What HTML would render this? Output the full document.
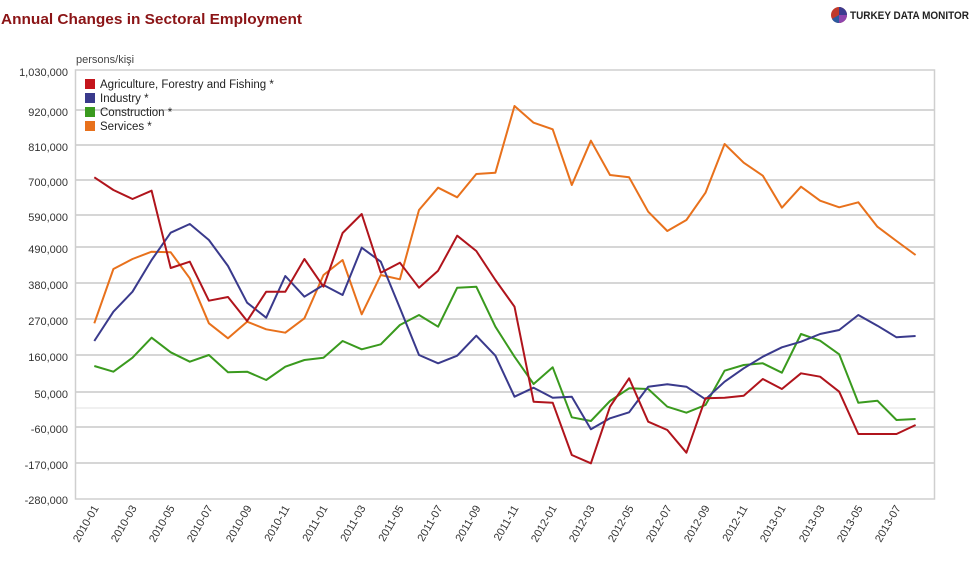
<!DOCTYPE html>
<html><head><meta charset="utf-8"><style>
body{margin:0;background:#fff;}
svg{display:block;font-family:"Liberation Sans",Arial,sans-serif;}
</style></head><body>
<svg width="979" height="570" viewBox="0 0 979 570" xmlns="http://www.w3.org/2000/svg">
<text x="1" y="24" font-size="15" font-weight="bold" fill="#8b1416" textLength="301" lengthAdjust="spacingAndGlyphs">Annual Changes in Sectoral Employment</text>
<g transform="translate(839,15)">
<circle r="8" fill="#c0392b"/>
<path d="M0,0 L0,-8 A8,8 0 0 1 8,0 Z" fill="#3b3b8f"/>
<path d="M0,0 L8,0 A8,8 0 0 1 0,8 Z" fill="#8e44ad"/>
<path d="M0,0 L0,8 A8,8 0 0 1 -7,4 Z" fill="#2c5a9e"/>
</g>
<text x="850" y="19" font-size="11" font-weight="bold" fill="#222" textLength="119" lengthAdjust="spacingAndGlyphs">TURKEY DATA MONITOR</text>
<text x="76" y="63" font-size="11" fill="#444">persons/kişi</text>
<g stroke="#d6d6d6" stroke-width="2">
<line x1="76" x2="934" y1="110" y2="110"/><line x1="76" x2="934" y1="145" y2="145"/>
<line x1="76" x2="934" y1="180" y2="180"/><line x1="76" x2="934" y1="215" y2="215"/>
<line x1="76" x2="934" y1="247" y2="247"/><line x1="76" x2="934" y1="283" y2="283"/>
<line x1="76" x2="934" y1="319" y2="319"/><line x1="76" x2="934" y1="355" y2="355"/>
<line x1="76" x2="934" y1="392" y2="392"/><line x1="76" x2="934" y1="427" y2="427"/>
<line x1="76" x2="934" y1="463" y2="463"/>
</g>
<line x1="76" x2="934" y1="408" y2="408" stroke="#ececec" stroke-width="1.5"/>
<rect x="75.5" y="70" width="859" height="429" fill="none" stroke="#cfcfcf" stroke-width="1.5"/>
<g font-size="11" fill="#333" text-anchor="end">
<text x="68" y="76">1,030,000</text><text x="68" y="116">920,000</text>
<text x="68" y="151">810,000</text><text x="68" y="186">700,000</text>
<text x="68" y="221">590,000</text><text x="68" y="253">490,000</text>
<text x="68" y="289">380,000</text><text x="68" y="325">270,000</text>
<text x="68" y="361">160,000</text><text x="68" y="398">50,000</text>
<text x="68" y="433">-60,000</text><text x="68" y="469">-170,000</text>
<text x="68" y="504">-280,000</text>
</g>
<g font-size="11" fill="#333" text-anchor="end">
<text transform="translate(99,508) rotate(-60)">2010-01</text>
<text transform="translate(137,508) rotate(-60)">2010-03</text>
<text transform="translate(175,508) rotate(-60)">2010-05</text>
<text transform="translate(213,508) rotate(-60)">2010-07</text>
<text transform="translate(252,508) rotate(-60)">2010-09</text>
<text transform="translate(290,508) rotate(-60)">2010-11</text>
<text transform="translate(328,508) rotate(-60)">2011-01</text>
<text transform="translate(366,508) rotate(-60)">2011-03</text>
<text transform="translate(404,508) rotate(-60)">2011-05</text>
<text transform="translate(443,508) rotate(-60)">2011-07</text>
<text transform="translate(481,508) rotate(-60)">2011-09</text>
<text transform="translate(519,508) rotate(-60)">2011-11</text>
<text transform="translate(557,508) rotate(-60)">2012-01</text>
<text transform="translate(595,508) rotate(-60)">2012-03</text>
<text transform="translate(634,508) rotate(-60)">2012-05</text>
<text transform="translate(672,508) rotate(-60)">2012-07</text>
<text transform="translate(710,508) rotate(-60)">2012-09</text>
<text transform="translate(748,508) rotate(-60)">2012-11</text>
<text transform="translate(786,508) rotate(-60)">2013-01</text>
<text transform="translate(825,508) rotate(-60)">2013-03</text>
<text transform="translate(863,508) rotate(-60)">2013-05</text>
<text transform="translate(901,508) rotate(-60)">2013-07</text>
</g>
<g fill="none" stroke-width="2" stroke-linejoin="round">
<polyline stroke="#e8711c" points="94.3,323.3 113.4,269 132.5,259 151.6,251.7 170.7,252.3 189.8,278.3 208.9,323.3 228,338.3 247.1,321.7 266.2,329.3 285.3,332.7 304.4,318.3 323.5,275 342.6,260 361.7,314.3 380.8,275 399.9,279.3 419,210 438.1,187.7 457.2,197.3 476.3,174 495.4,172.7 514.5,106 533.6,122.7 552.7,129.3 571.8,185 590.9,140.7 610,175 629.1,177.3 648.2,211.7 667.3,231 686.4,220 705.5,192.7 724.6,144 743.7,162.7 762.8,175.7 781.9,207.7 801,186.7 820.1,200.7 839.2,207.3 858.3,202.3 877.4,226.7 896.5,241 915.6,255"/>
<polyline stroke="#3a9a1e" points="94.3,366 113.4,371.7 132.5,357.7 151.6,337.7 170.7,352.3 189.8,361.7 208.9,355 228,372.3 247.1,371.7 266.2,380 285.3,366.7 304.4,360 323.5,357.7 342.6,341 361.7,349.3 380.8,344.3 399.9,325 419,315 438.1,326.7 457.2,287.7 476.3,286.7 495.4,326.7 514.5,356.7 533.6,384 552.7,367.3 571.8,417.3 590.9,421 610,401 629.1,388.3 648.2,389 667.3,406.7 686.4,412.7 705.5,405 724.6,370.7 743.7,365 762.8,363.3 781.9,372.7 801,334 820.1,340.7 839.2,354.3 858.3,402.7 877.4,400.7 896.5,420 915.6,419"/>
<polyline stroke="#3a3a8c" points="94.3,341 113.4,311.7 132.5,291.7 151.6,260 170.7,232.7 189.8,224 208.9,240 228,266 247.1,302.7 266.2,317.7 285.3,276 304.4,296.7 323.5,285 342.6,295 361.7,247.7 380.8,261.7 399.9,308 419,355 438.1,363.3 457.2,355.7 476.3,335.7 495.4,355.7 514.5,396.7 533.6,387.7 552.7,397.7 571.8,396.7 590.9,429.3 610,418.3 629.1,412.3 648.2,386.7 667.3,384.3 686.4,386.7 705.5,399.3 724.6,381.7 743.7,368.3 762.8,356.7 781.9,347.3 801,341.7 820.1,334 839.2,330 858.3,315 877.4,325.7 896.5,337.3 915.6,336"/>
<polyline stroke="#b0141c" points="94.3,177.3 113.4,190 132.5,199 151.6,190.7 170.7,268 189.8,261.7 208.9,300.7 228,297 247.1,321 266.2,291.7 285.3,291.7 304.4,259 323.5,286.7 342.6,233 361.7,214 380.8,272.7 399.9,262.7 419,287.7 438.1,270.7 457.2,235.7 476.3,251 495.4,280 514.5,306.7 533.6,401.7 552.7,402.7 571.8,455 590.9,463.3 610,406.7 629.1,378.3 648.2,421.7 667.3,430 686.4,452.7 705.5,398.3 724.6,397.7 743.7,395.7 762.8,379 781.9,389 801,373.3 820.1,376.7 839.2,391.7 858.3,434 877.4,434 896.5,434 915.6,425"/>
</g>
<g font-size="11.5" fill="#222">
<rect x="85" y="79" width="10" height="10" fill="#c4151c"/><text x="100" y="88">Agriculture, Forestry and Fishing *</text>
<rect x="85" y="93" width="10" height="10" fill="#3a3a8c"/><text x="100" y="102">Industry *</text>
<rect x="85" y="107" width="10" height="10" fill="#3a9a1e"/><text x="100" y="116">Construction *</text>
<rect x="85" y="121" width="10" height="10" fill="#e8711c"/><text x="100" y="130">Services *</text>
</g>
</svg>
</body></html>
